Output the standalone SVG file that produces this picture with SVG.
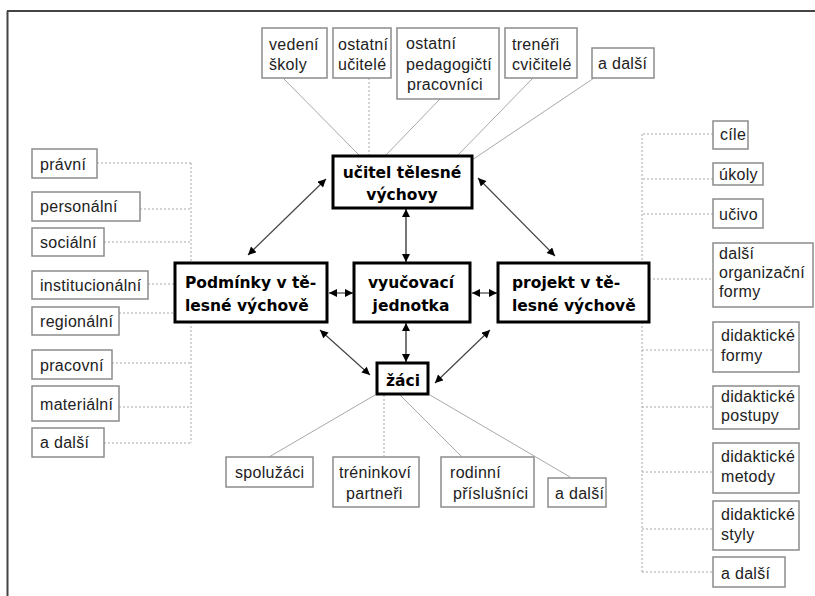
<svg xmlns="http://www.w3.org/2000/svg" width="815" height="596" viewBox="0 0 815 596">
<style>
.sb{fill:#fff;stroke:#8c8c8c;stroke-width:1.5}
.st{font-family:"Liberation Sans",Arial,sans-serif;font-size:16px;letter-spacing:0.3px;fill:#222}
.mb{fill:#fff;stroke:#000;stroke-width:3}
.mt{font-family:"DejaVu Sans",Verdana,sans-serif;font-weight:bold;font-size:15.5px;fill:#000}
.c{fill:none;stroke:#a8a8a8;stroke-width:1}
.d{fill:none;stroke:#a8a8a8;stroke-width:1;stroke-dasharray:2 2}
.a{fill:none;stroke:#444;stroke-width:1.2;marker-start:url(#ah);marker-end:url(#ah)}
.av{fill:none;stroke:#777;stroke-width:2;marker-start:url(#ah);marker-end:url(#ah)}
</style>
<defs>
<marker id="ah" viewBox="0 0 10 10" refX="10" refY="5" markerWidth="9" markerHeight="8" markerUnits="userSpaceOnUse" orient="auto-start-reverse">
<path d="M0,0 L10,5 L0,10 z" fill="#000"/>
</marker>
</defs>
<rect width="815" height="596" fill="#fff"/>
<g id="frame">
<line x1="7" y1="11" x2="815" y2="11" stroke="#444" stroke-width="2"/>
<line x1="7.5" y1="11" x2="7.5" y2="596" stroke="#444" stroke-width="2"/>
</g>
<g id="connectors">
<line class="c" x1="283" y1="78" x2="360" y2="156"/>
<line class="d" x1="369" y1="78" x2="369" y2="156"/>
<line class="c" x1="440" y1="99" x2="385" y2="156"/>
<line class="c" x1="533" y1="78" x2="457" y2="156"/>
<line class="c" x1="594" y1="78" x2="472" y2="160"/>
<path class="d" d="M97,163 H191 M140,209 H191 M104,242 H191 M148,284 H175 M119,313 H175 M112,363 H191 M119,407 H191 M104,443 H191 M191,163 V263 M191,322 V443"/>
<path class="d" d="M713,134 H642 M713,179 H642 M713,214 H642 M649,279 H713 M642,134 V263 M642,322 V572 M642,350 H713 M642,407 H713 M642,472 H713 M642,529 H713 M642,572 H713"/>
<line class="c" x1="375" y1="395" x2="269" y2="457"/>
<line class="d" x1="384" y1="395" x2="384" y2="457"/>
<line class="c" x1="400" y1="395" x2="462" y2="457"/>
<line class="c" x1="430" y1="395" x2="570" y2="477"/>
<line class="av" x1="406" y1="209" x2="406" y2="262"/>
<line class="av" x1="406" y1="323" x2="406" y2="362"/>
<line class="a" x1="329" y1="293" x2="353" y2="293"/>
<line class="a" x1="472" y1="293" x2="497" y2="293"/>
<line class="a" x1="248" y1="255" x2="326" y2="179"/>
<line class="a" x1="320" y1="330" x2="370" y2="375"/>
<line class="a" x1="478" y1="178" x2="555" y2="256"/>
<line class="a" x1="490" y1="330" x2="435" y2="383"/>
</g>
<g id="ucitel"><rect class="mb" x="333" y="156" width="139" height="52"/><text class="mt" text-anchor="middle"><tspan x="402" y="178">učitel tělesné</tspan><tspan x="402" y="200">výchovy</tspan></text></g>
<g id="podminky"><rect class="mb" x="175" y="263" width="152" height="59"/><text class="mt"><tspan x="185" y="288">Podmínky v tě-</tspan><tspan x="185" y="311">lesné výchově</tspan></text></g>
<g id="vyucovaci"><rect class="mb" x="354" y="263" width="116" height="59"/><text class="mt" text-anchor="middle"><tspan x="411" y="288">vyučovací</tspan><tspan x="411" y="311">jednotka</tspan></text></g>
<g id="projekt"><rect class="mb" x="498" y="263" width="151" height="59"/><text class="mt"><tspan x="512" y="288">projekt v tě-</tspan><tspan x="512" y="311">lesné výchově</tspan></text></g>
<g id="zaci"><rect class="mb" x="377" y="363" width="51" height="31"/><text class="mt" x="403" y="386" text-anchor="middle">žáci</text></g>
<g id="vedeni"><rect class="sb" x="262" y="28" width="65" height="50"/><text class="st"><tspan x="269" y="50">vedení</tspan><tspan x="269" y="70">školy</tspan></text></g>
<g id="ostatni-ucitele"><rect class="sb" x="333" y="28" width="58" height="50"/><text class="st"><tspan x="338" y="50">ostatní</tspan><tspan x="338" y="70">učitelé</tspan></text></g>
<g id="pedagogicti"><rect class="sb" x="397" y="28" width="102" height="71"/><text class="st"><tspan x="406" y="49">ostatní</tspan><tspan x="406" y="69.5">pedagogičtí</tspan><tspan x="407" y="90">pracovníci</tspan></text></g>
<g id="treneri"><rect class="sb" x="505" y="28" width="72" height="50"/><text class="st"><tspan x="512" y="50">trenéři</tspan><tspan x="512" y="70">cvičitelé</tspan></text></g>
<g id="dalsi-top"><rect class="sb" x="592" y="48" width="62" height="30"/><text class="st" x="598" y="69">a další</text></g>
<g id="pravni"><rect class="sb" x="32" y="149" width="65" height="29"/><text class="st" x="40" y="170">právní</text></g>
<g id="personalni"><rect class="sb" x="32" y="192" width="108" height="29"/><text class="st" x="40" y="212">personální</text></g>
<g id="socialni"><rect class="sb" x="32" y="228" width="72" height="28"/><text class="st" x="40" y="248">sociální</text></g>
<g id="institucionalni"><rect class="sb" x="32" y="271" width="116" height="28"/><text class="st" x="40" y="291">institucionální</text></g>
<g id="regionalni"><rect class="sb" x="32" y="307" width="87" height="28"/><text class="st" x="40" y="327">regionální</text></g>
<g id="pracovni"><rect class="sb" x="32" y="350" width="80" height="29"/><text class="st" x="40" y="371">pracovní</text></g>
<g id="materialni"><rect class="sb" x="32" y="386" width="87" height="35"/><text class="st" x="40" y="410">materiální</text></g>
<g id="dalsi-left"><rect class="sb" x="32" y="428" width="72" height="29"/><text class="st" x="40" y="448">a další</text></g>
<g id="cile"><rect class="sb" x="713" y="121" width="35" height="28"/><text class="st" x="720" y="140">cíle</text></g>
<g id="ukoly"><rect class="sb" x="713" y="163" width="50" height="22"/><text class="st" x="719" y="180">úkoly</text></g>
<g id="ucivo"><rect class="sb" x="713" y="199" width="50" height="29"/><text class="st" x="719" y="220">učivo</text></g>
<g id="dalsi-org"><rect class="sb" x="713" y="243" width="100" height="64"/><text class="st"><tspan x="719" y="259">další</tspan><tspan x="719" y="278">organizační</tspan><tspan x="719" y="297">formy</tspan></text></g>
<g id="did-formy"><rect class="sb" x="713" y="322" width="86" height="50"/><text class="st"><tspan x="721" y="341">didaktické</tspan><tspan x="721" y="361">formy</tspan></text></g>
<g id="did-postupy"><rect class="sb" x="713" y="386" width="86" height="43"/><text class="st"><tspan x="721" y="402">didaktické</tspan><tspan x="721" y="421">postupy</tspan></text></g>
<g id="did-metody"><rect class="sb" x="713" y="443" width="86" height="50"/><text class="st"><tspan x="721" y="462">didaktické</tspan><tspan x="721" y="482">metody</tspan></text></g>
<g id="did-styly"><rect class="sb" x="713" y="501" width="86" height="49"/><text class="st"><tspan x="721" y="520">didaktické</tspan><tspan x="721" y="540">styly</tspan></text></g>
<g id="dalsi-right"><rect class="sb" x="713" y="557" width="72" height="30"/><text class="st" x="721" y="579">a další</text></g>
<g id="spoluzaci"><rect class="sb" x="226" y="457" width="87" height="30"/><text class="st" x="235" y="478">spolužáci</text></g>
<g id="treninkovi"><rect class="sb" x="333" y="457" width="86" height="50"/><text class="st"><tspan x="339" y="478">tréninkoví</tspan><tspan x="346" y="499">partneři</tspan></text></g>
<g id="rodinni"><rect class="sb" x="441" y="457" width="93" height="50"/><text class="st"><tspan x="450" y="478">rodinní</tspan><tspan x="453" y="499">příslušníci</tspan></text></g>
<g id="dalsi-bottom"><rect class="sb" x="548" y="478" width="58" height="29"/><text class="st" x="555" y="499">a další</text></g>
</svg>
